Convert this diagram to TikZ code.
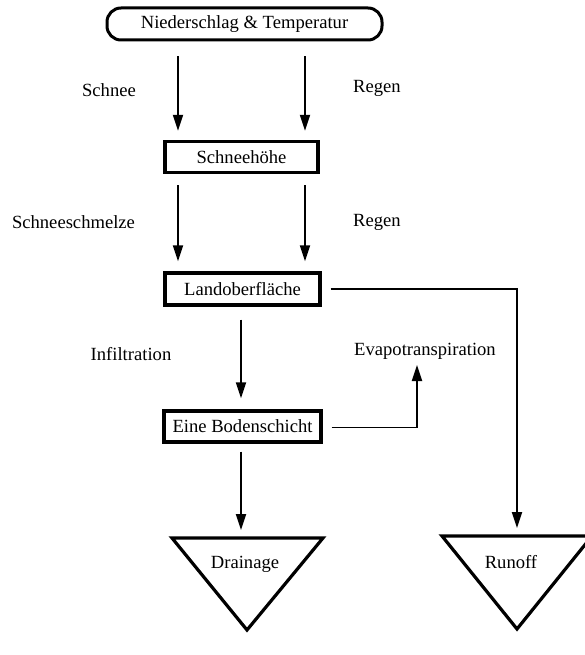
\documentclass[tikz,border=0pt]{standalone}
\usepackage{fontspec}
\setmainfont{Liberation Serif}
\usetikzlibrary{arrows.meta}
\begin{document}
\begin{tikzpicture}[x=1pt,y=-1pt,
  every node/.style={font=\fontsize{18.6}{20}\selectfont, inner sep=0pt},
  box/.style={draw, line width=3.2pt, minimum width=#1, minimum height=31pt},
  rbox/.style={draw, line width=3pt, rounded corners=14pt, minimum width=275pt, minimum height=32pt},
  tri/.style={draw, line width=3.2pt, line join=miter},
  arr/.style={line width=1.9pt, -{Triangle[length=16pt,width=10pt]}},
  lne/.style={line width=1.9pt}]
\useasboundingbox (0,0) rectangle (585,655);
\clip (0,0) rectangle (585,655);
% nodes
\node[rbox] (top) at (244.5,24) {Niederschlag \& Temperatur};
\node[box=153pt] (snow) at (241.5,157) {Schneehöhe};
\node[box=155pt, minimum height=32pt] (land) at (242.5,289) {Landoberfläche};
\node[box=157pt] (soil) at (242.5,426.5) {Eine Bodenschicht};
% triangles
\draw[tri] (172,538) -- (323,538) -- (247,630) -- cycle;
\draw[tri] (442,536) -- (592,536) -- (517,629) -- cycle;
\node (drain) at (245,564) {Drainage};
\node (runoff) at (511,562) {Runoff};
\coordinate (drtop) at (241,538);
\coordinate (rutop) at (517,536);
\coordinate (evtip) at (417,365);
% labels
\node (l1) at (109,90) {Schnee};
\node (l2) at (377,88) {Regen};
\node (l3) at (73.5,222) {Schneeschmelze};
\node (l4) at (377,222) {Regen};
\node (l5) at (131,354) {Infiltration};
\node (l6) at (425,351) {Evapotranspiration};
% arrows
\draw[arr] ([xshift=-66.5pt,yshift=-15pt]top.south) -- ([xshift=-63.5pt,yshift=9pt]snow.north);
\draw[arr] ([xshift=60.5pt,yshift=-15pt]top.south) -- ([xshift=63.5pt,yshift=9pt]snow.north);
\draw[arr] ([xshift=-63.5pt,yshift=-11pt]snow.south) -- ([xshift=-64.5pt,yshift=10pt]land.north);
\draw[arr] ([xshift=63.5pt,yshift=-11pt]snow.south) -- ([xshift=62.5pt,yshift=10pt]land.north);
\draw[arr] ([xshift=-1.5pt,yshift=-13pt]land.south) -- ([xshift=-1.5pt,yshift=11pt]soil.north);
\draw[arr] ([xshift=-1.5pt,yshift=-8pt]soil.south) -- ([yshift=8pt]drtop);
\draw[arr] ([xshift=9pt]land.east) -| ([yshift=8pt]rutop);
\draw[arr] ([xshift=9pt,yshift=-1pt]soil.east) -| (evtip);
\end{tikzpicture}
\end{document}
